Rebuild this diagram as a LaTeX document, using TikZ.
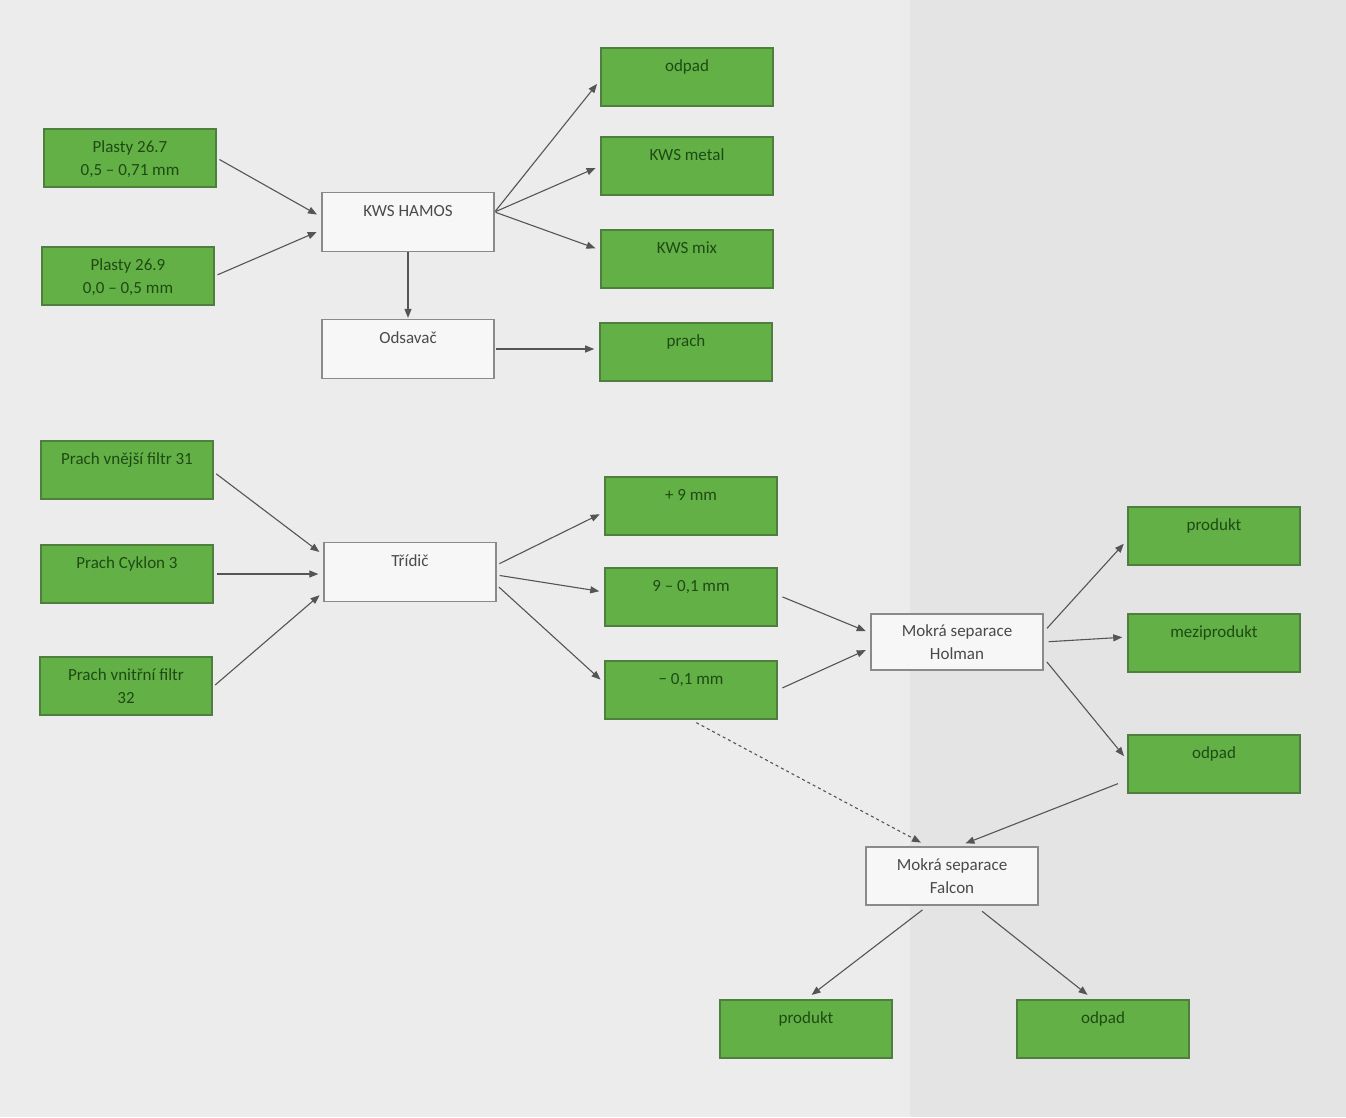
\documentclass[tikz,border=0pt]{standalone}
\usepackage{fontspec}
\setmainfont{Carlito}
\usetikzlibrary{arrows.meta}
\definecolor{paper}{HTML}{ECECEC}
\definecolor{paperR}{HTML}{E4E4E4}
\definecolor{boxgreen}{HTML}{62B046}
\definecolor{boxgreenline}{HTML}{4E7F3E}
\definecolor{greentext}{HTML}{1F4A14}
\definecolor{greyline}{HTML}{8A8A8A}
\definecolor{greytext}{HTML}{4A4A4A}
\definecolor{arrowcol}{HTML}{555555}
\newcommand{\bt}[1]{\parbox[t][44pt][t]{172pt}{\centering\fontsize{17}{23}\selectfont\strut #1}}
\tikzset{
  gbox/.style={draw=boxgreenline, line width=1.6pt, fill=boxgreen, text=greentext,
    minimum width=170pt, minimum height=58pt, inner sep=0pt},
  wbox/.style={draw=greyline, line width=1.3pt, fill=white!60!paper, text=greytext,
    minimum width=172pt, minimum height=59pt, inner sep=0pt},
  arr/.style={draw=arrowcol, line width=1.1pt, -{Triangle[length=9pt,width=7pt]},
    shorten >=5pt, shorten <=3pt},
}
\begin{document}
\begin{tikzpicture}[x=1pt,y=-1pt]
\useasboundingbox (0,0) rectangle (1346,1117);
\fill[paper] (0,0) rectangle (1346,1117);
\fill[paperR] (910,0) rectangle (1346,1117);

% top section
\node[gbox] (p267) at (130,158) {\bt{Plasty 26.7\\0,5 – 0,71 mm}};
\node[gbox] (p269) at (128,276) {\bt{Plasty 26.9\\0,0 – 0,5 mm}};
\node[wbox] (kws) at (408,222) {\bt{KWS HAMOS}};
\node[wbox] (ods) at (408,349) {\bt{Odsavač}};
\node[gbox] (odpad1) at (687,77) {\bt{odpad}};
\node[gbox] (metal) at (687,166) {\bt{KWS metal}};
\node[gbox] (mix) at (687,259) {\bt{KWS mix}};
\node[gbox] (prach) at (686,352) {\bt{prach}};

% middle section
\node[gbox] (vnejsi) at (127,470) {\bt{Prach vnější filtr 31}};
\node[gbox] (cyklon) at (127,574) {\bt{Prach Cyklon 3}};
\node[gbox] (vnitrni) at (126,686) {\bt{Prach vnitřní filtr\\32}};
\node[wbox] (trid) at (410,572) {\bt{Třídič}};
\node[gbox] (plus9) at (691,506) {\bt{+ 9 mm}};
\node[gbox] (nine) at (691,597) {\bt{9 – 0,1 mm}};
\node[gbox] (minus) at (691,690) {\bt{− 0,1 mm}};
\node[wbox, minimum width=168pt, minimum height=56pt] (holman) at (957,642) {\bt{Mokrá separace\\Holman}};
\node[gbox] (produkt2) at (1214,536) {\bt{produkt}};
\node[gbox] (mezi) at (1214,643) {\bt{meziprodukt}};
\node[gbox] (odpad2) at (1214,764) {\bt{odpad}};
\node[wbox, minimum width=168pt, minimum height=58pt] (falcon) at (952,876) {\bt{Mokrá separace\\Falcon}};
\node[gbox] (produkt3) at (806,1029) {\bt{produkt}};
\node[gbox] (odpad3) at (1103,1029) {\bt{odpad}};

% connectors top
\draw[arr] (p267.east) -- ([yshift=5pt]kws.west);
\draw[arr] (p269.east) -- ([yshift=-8pt]kws.west);
\draw[arr, shorten <=1pt] ([yshift=10pt]kws.east) -- ([yshift=-3pt]odpad1.west);
\draw[arr, shorten <=1pt] ([yshift=10pt]kws.east) -- (metal.west);
\draw[arr, shorten <=1pt] ([yshift=10pt]kws.east) -- ([yshift=9pt]mix.west);
\draw[arr, shorten <=0pt, shorten >=1pt] (kws.south) -- (kws.south |- ods.north);
\draw[arr, shorten <=1pt] (ods.east) -- (ods.east -| prach.west);

% connectors middle
\draw[arr] ([yshift=-2pt]vnejsi.east) -- ([yshift=17pt]trid.west);
\draw[arr] (cyklon.east) -- (cyklon.east -| trid.west);
\draw[arr] ([yshift=-1pt]vnitrni.east) -- ([yshift=-20pt]trid.west);
\draw[arr] ([yshift=7pt]trid.east) -- ([yshift=-6pt]plus9.west);
\draw[arr] ([yshift=-3pt]trid.east) -- ([yshift=5pt]nine.west);
\draw[arr] ([yshift=-13pt]trid.east) -- ([yshift=7pt]minus.west);
\draw[arr, shorten <=5pt] ([yshift=2pt]nine.east) -- ([yshift=9pt]holman.west);
\draw[arr, shorten <=5pt] (minus.east) -- ([yshift=-6pt]holman.west);
\draw[arr, shorten <=5pt] ([yshift=10pt]holman.east) -- ([yshift=-4pt]produkt2.west);
\draw[arr, shorten <=5pt] (holman.east) -- ([yshift=6pt]mezi.west);
\draw[arr, shorten <=5pt] ([yshift=-16pt]holman.east) -- ([yshift=4pt]odpad2.west);

% connectors bottom
\draw[arr, shorten <=10pt, shorten >=8pt] ([yshift=-16pt]odpad2.west) -- ([xshift=6pt]falcon.north);
\draw[arr, dashed, shorten <=6pt, shorten >=8pt] (minus.south) -- ([xshift=-24pt]falcon.north);
\draw[arr, shorten <=7pt, shorten >=7pt] ([xshift=-24pt]falcon.south) -- (produkt3.north);
\draw[arr, shorten <=9pt, shorten >=7pt] ([xshift=23pt]falcon.south) -- ([xshift=-10pt]odpad3.north);
\end{tikzpicture}
\end{document}
